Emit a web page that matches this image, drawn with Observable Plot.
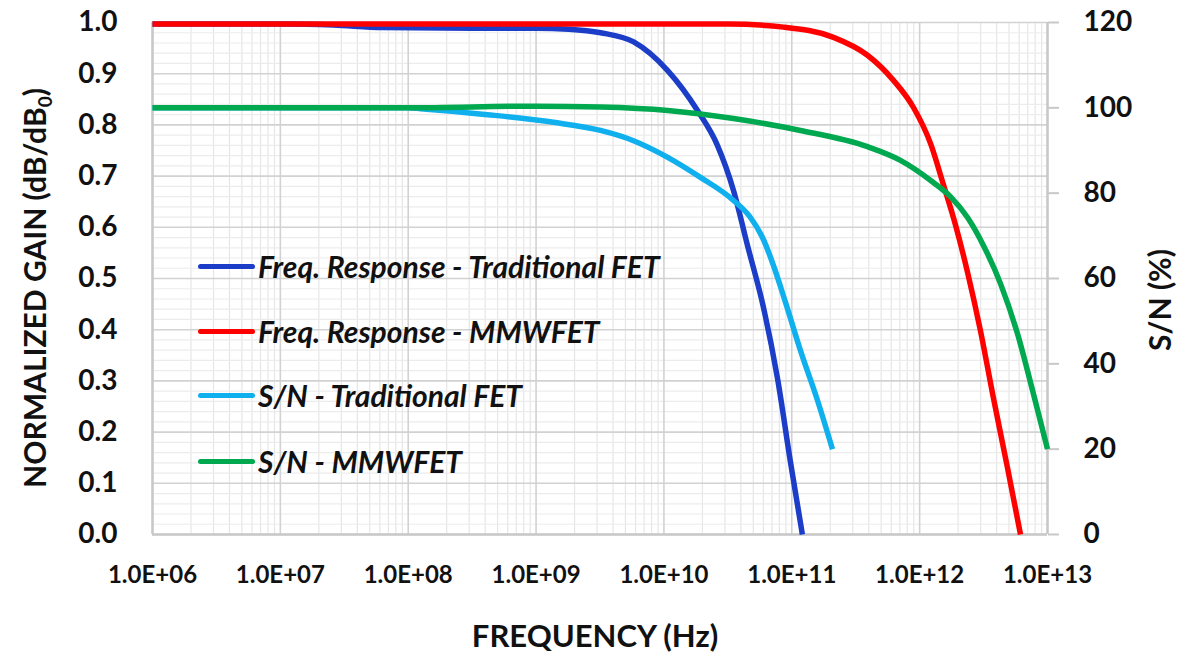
<!DOCTYPE html>
<html>
<head>
<meta charset="utf-8">
<script src="https://cdn.jsdelivr.net/npm/d3@7"></script>
<script src="https://cdn.jsdelivr.net/npm/@observablehq/plot@0.6"></script>
<style>
  html, body { margin: 0; padding: 0; background: #fff; }
  #wrap { position: relative; width: 1181px; height: 655px; overflow: hidden; font-family: Lato, "Open Sans", sans-serif; }
  #legend { position: absolute; left: 198px; top: 0; }
  .li { position: absolute; left: 0; display: flex; align-items: center; white-space: nowrap; }
  .sw { width: 57px; height: 5px; border-radius: 3px; margin-right: 3px; }
  .lt { font-weight: bold; font-style: italic; font-size: 30px; color: #111; }
</style>
</head>
<body>
<div id="wrap"></div>
<script>
// ---------- data ----------
const seriesNames = [
  "Freq. Response - Traditional FET",
  "Freq. Response - MMWFET",
  "S/N - Traditional FET",
  "S/N - MMWFET"
];
const seriesColors = ["#1c3dc8", "#ff0000", "#10b0ee", "#00a84f"];

// Frequency response, Traditional FET (normalized gain)
const freqRespTradHz = [1e6, 1e7, 2.6e7, 6.3e7, 3.2e8, 1e9, 1.8e9, 3.2e9, 5.8e9, 1.07e10, 1.83e10, 2.62e10, 3.5e10, 4.51e10, 6.01e10, 7.73e10, 9.77e10, 1.21e11];
const freqRespTradGain = [0.997, 0.997, 0.995, 0.990, 0.989, 0.989, 0.987, 0.980, 0.962, 0.906, 0.828, 0.760, 0.672, 0.564, 0.443, 0.305, 0.141, 0.0];

// Frequency response, MMWFET (normalized gain)
const freqRespMmwHz = [1e6, 1e8, 3.2e10, 8.61e10, 2.12e11, 3.91e11, 6.24e11, 8.95e11, 1.22e12, 1.54e12, 1.91e12, 2.37e12, 2.99e12, 3.78e12, 4.86e12, 6.15e12];
const freqRespMmwGain = [0.997, 0.997, 0.997, 0.991, 0.971, 0.936, 0.887, 0.834, 0.763, 0.682, 0.604, 0.512, 0.398, 0.266, 0.131, 0.0];

// S/N, Traditional FET (%)
const snTradHz = [1e6, 1e8, 1.25e8, 4.17e8, 1.37e9, 3.19e9, 5.78e9, 1.07e10, 1.93e10, 3.5e10, 4.75e10, 5.9e10, 7.2e10, 8.93e10, 1.17e11, 1.59e11, 2.08e11];
const snTradPct = [100, 100, 99.8, 98.4, 96.6, 94.7, 92.3, 88.4, 83.7, 78.3, 74.3, 69.6, 63.0, 54.4, 43.1, 31.4, 20];

// S/N, MMWFET (%)
const snMmwHz = [1e6, 1e8, 1e9, 3.19e9, 1.07e10, 3.5e10, 1.17e11, 3.91e11, 7.08e11, 1.28e12, 1.74e12, 2.37e12, 3.16e12, 4.29e12, 5.82e12, 7.76e12, 1e13];
const snMmwPct = [100, 100, 100.4, 100.2, 99.4, 97.5, 94.7, 90.9, 87.7, 82.5, 79.2, 74.3, 67.7, 58.8, 47.1, 33.0, 20];

// axes
const xTickValues = [1e6, 1e7, 1e8, 1e9, 1e10, 1e11, 1e12, 1e13];
const xTickLabels = ["1.0E+06", "1.0E+07", "1.0E+08", "1.0E+09", "1.0E+10", "1.0E+11", "1.0E+12", "1.0E+13"];
const gainTicks = [0, 0.1, 0.2, 0.3, 0.4, 0.5, 0.6, 0.7, 0.8, 0.9, 1.0];
const snTicks = [0, 20, 40, 60, 80, 100, 120];
const snMax = 120;

// ---------- build ----------
const zip = (xs, ys, k) => xs.map((x, i) => ({x, y: ys[i], k}));
const gainData = [
  ...zip(freqRespTradHz, freqRespTradGain, 0),
  ...zip(freqRespMmwHz, freqRespMmwGain, 1)
];
const snData = [
  ...zip(snTradHz, snTradPct, 2),
  ...zip(snMmwHz, snMmwPct, 3)
].map(d => ({...d, y: d.y / snMax}));

const logScale = d3.scaleLog().domain([1e6, 1e13]);
const minorX = logScale.ticks().filter(v => !xTickValues.includes(v));
const minorY = d3.range(0, 51).map(i => i / 50).filter(v => Math.abs(v * 10 - Math.round(v * 10)) > 1e-6);

const lineMark = (data, k) => Plot.line(data.filter(d => d.k === k), {
  x: "x", y: "y", stroke: seriesColors[k], strokeWidth: 5.5, curve: "monotone-x",
  strokeLinecap: "butt", strokeLinejoin: "round"
});

const plot = Plot.plot({
  width: 1181,
  height: 655,
  marginLeft: 152,
  marginRight: 134,
  marginTop: 22,
  marginBottom: 121,
  style: {fontFamily: "Lato, 'Open Sans', sans-serif", fontWeight: "bold", color: "#111", background: "#fff"},
  x: {type: "log", domain: [1e6, 1e13]},
  y: {domain: [0, 1]},
  marks: [
    Plot.ruleX(minorX, {stroke: "#e6e6e6", strokeWidth: 1.2}),
    Plot.ruleY(minorY, {stroke: "#ececec", strokeWidth: 1.2}),
    Plot.ruleX(xTickValues, {stroke: "#d2d2d2", strokeWidth: 1.6}),
    Plot.ruleY(gainTicks, {stroke: "#d2d2d2", strokeWidth: 1.6}),
    Plot.ruleX([1e6], {stroke: "#c8c8c8", strokeWidth: 2.5}),
    Plot.ruleX([1e13], {stroke: "#c8c8c8", strokeWidth: 2.5}),
    Plot.ruleY([0], {stroke: "#c8c8c8", strokeWidth: 2.5}),
    Plot.axisX(xTickValues, {
      anchor: "bottom", tickSize: 0, tickPadding: 31, label: null,
      tickFormat: (d, i) => xTickLabels[xTickValues.indexOf(d)],
      fontSize: 24, fontWeight: "bold"
    }),
    Plot.axisY(gainTicks, {
      anchor: "left", tickSize: 0, tickPadding: 35, label: null,
      tickFormat: d => d.toFixed(1), fontSize: 28, fontWeight: "bold"
    }),
    Plot.axisY(snTicks.map(v => v / snMax), {
      anchor: "right", tickSize: 11, tickPadding: 25, label: null, stroke: "#c8c8c8", strokeWidth: 2,
      tickFormat: d => String(Math.round(d * snMax)), fontSize: 28, fontWeight: "bold"
    }),
    lineMark(gainData, 0),
    lineMark(gainData, 1),
    lineMark(snData, 2),
    lineMark(snData, 3)
  ]
});

const wrap = document.getElementById("wrap");
wrap.appendChild(plot);

// axis titles
const svg = d3.select(plot);
svg.append("text")
  .attr("x", 595).attr("y", 647)
  .attr("text-anchor", "middle")
  .style("font-size", "31px").style("font-weight", "bold").attr("fill", "#111")
  .text("FREQUENCY (Hz)");

const yt = svg.append("text")
  .attr("transform", "translate(46,288) rotate(-90)")
  .attr("text-anchor", "middle")
  .style("font-size", "30px").style("font-weight", "bold").attr("fill", "#111");
yt.append("tspan").text("NORMALIZED GAIN (dB/dB");
yt.append("tspan").attr("dy", "0.3em").style("font-size", "19px").text("0");
yt.append("tspan").attr("dy", "-0.18em").text(")");

svg.append("text")
  .attr("transform", "translate(1171,300) rotate(-90)")
  .attr("text-anchor", "middle")
  .style("font-size", "30px").style("font-weight", "bold").attr("fill", "#111")
  .text("S/N (%)");

// legend
const legendTops = [266, 331, 395, 461];
const legend = document.createElement("div");
legend.id = "legend";
seriesNames.forEach((name, i) => {
  const row = document.createElement("div");
  row.className = "li";
  row.style.top = (legendTops[i] - 18) + "px";
  row.style.height = "36px";
  row.innerHTML = `<div class="sw" style="background:${seriesColors[i]}"></div><span class="lt">${name}</span>`;
  legend.appendChild(row);
});
wrap.appendChild(legend);
</script>
</body>
</html>
